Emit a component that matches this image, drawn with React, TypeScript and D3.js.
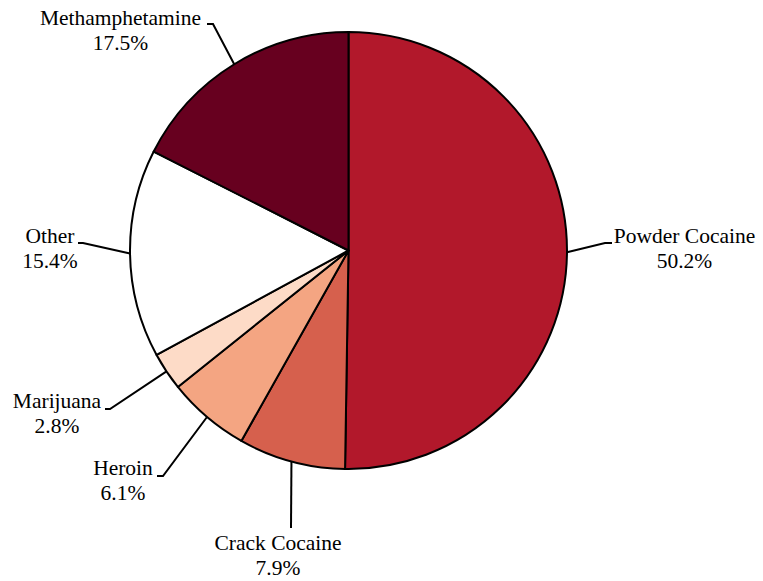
import React from "react";
import * as d3 from "d3";

const categories = ["Powder Cocaine", "Crack Cocaine", "Heroin", "Marijuana", "Other", "Methamphetamine"];
const shares = [50.2, 7.9, 6.1, 2.8, 15.4, 17.5];
const colors = ["#B2182B", "#D6604D", "#F4A582", "#FDDBC7", "#FFFFFF", "#67001F"];

// label layout: text center x, first baseline y, elbow point, leader end point
const labelLayout = [
  { tx: 684.5, ty: 243, ex: 605, ey: 243, lx: 612, ly: 243 },
  { tx: 278, ty: 550, ex: 291, ey: 528, lx: 291, ly: 528 },
  { tx: 123, ty: 475, ex: 163, ey: 476, lx: 157, ly: 476 },
  { tx: 57, ty: 408, ex: 110, ey: 409, lx: 105, ly: 409 },
  { tx: 50, ty: 243, ex: 83, ey: 243, lx: 78, ly: 243 },
  { tx: 120.5, ty: 25, ex: 213, ey: 24, lx: 207, ly: 24 },
];

const W = 763;
const H = 581;
const cx = 348.5;
const cy = 250.5;
const R = 218.5;

export default function App() {
  const pie = d3.pie<number>().sort(null).value((d) => d);
  const arcs = pie(shares);
  const arcGen = d3.arc<d3.PieArcDatum<number>>().innerRadius(0).outerRadius(R);
  const fmt = d3.format(".1f");
  return (
    <svg width={W} height={H} style={{ position: "absolute", left: 0, top: 0 }}>
      <rect width={W} height={H} fill="#fff" />
      <g transform={`translate(${cx},${cy})`}>
        {arcs.map((a, i) => (
          <path key={i} d={arcGen(a) || ""} fill={colors[i]} stroke="#000" strokeWidth={2} strokeLinejoin="round" />
        ))}
      </g>
      {arcs.map((a, i) => {
        const mid = (a.startAngle + a.endAngle) / 2;
        const px = cx + R * Math.sin(mid);
        const py = cy - R * Math.cos(mid);
        const L = labelLayout[i];
        return (
          <polyline
            key={"l" + i}
            points={`${px},${py} ${L.ex},${L.ey} ${L.lx},${L.ly}`}
            fill="none"
            stroke="#000"
            strokeWidth={2}
          />
        );
      })}
      {labelLayout.map((L, i) => (
        <text key={"a" + i} x={L.tx} y={L.ty} textAnchor="middle" fontFamily="Liberation Serif" fontSize={21.5}>
          {categories[i]}
        </text>
      ))}
      {labelLayout.map((L, i) => (
        <text key={"b" + i} x={L.tx} y={L.ty + 25} textAnchor="middle" fontFamily="Liberation Serif" fontSize={21.5}>
          {fmt(shares[i]) + "%"}
        </text>
      ))}
    </svg>
  );
}
